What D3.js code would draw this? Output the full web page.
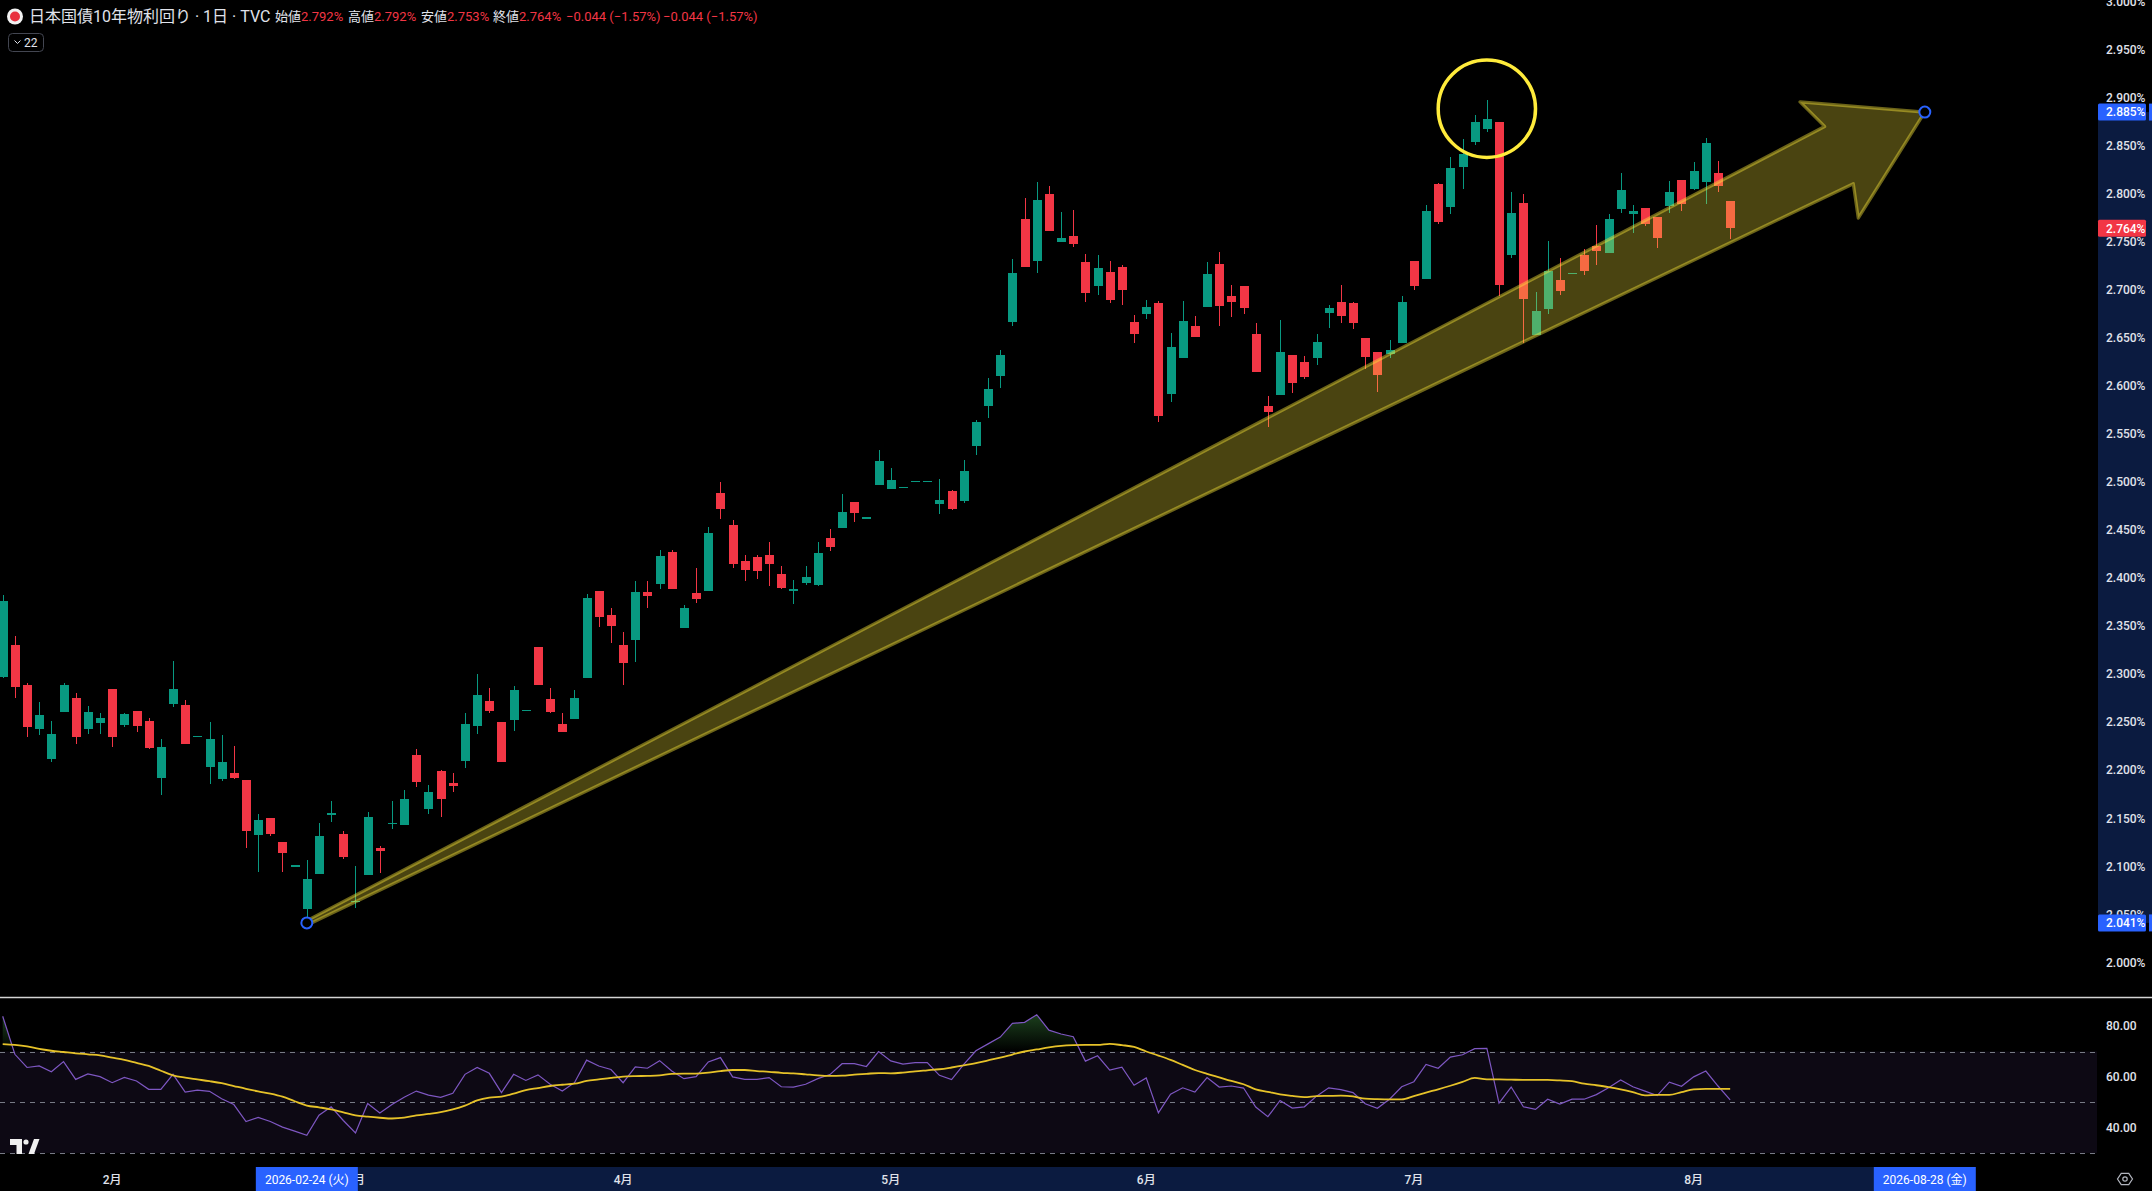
<!DOCTYPE html>
<html lang="ja">
<head>
  <meta charset="UTF-8">
  <title>日本国債10年物利回り - 日足</title>
  <script src="https://d3js.org/d3.v7.min.js"></script>
  <style>
    html, body {
      margin: 0;
      padding: 0;
      background: #000;
    }
    svg {
      display: block;
    }
    text {
      font-family: Roboto, "Noto Sans CJK JP", sans-serif;
    }
  </style>
</head>
<body>
  <svg width="2152" height="1191"></svg>

  <script>
    // trading calendar (weekdays) and the bars that are drawn
    const firstDay = "2026-01-20",
          lastDay = "2026-08-28";

    const opens = [
      2.297, 2.330, 2.289, 2.243, 2.212, 2.261, 2.275, 2.243, 2.249, 2.284,
      2.247, 2.262, 2.251, 2.192, 2.269, 2.268, 2.236, 2.203, 2.191, 2.197,
      2.190, 2.132, 2.150, 2.125, 2.101, 2.056, 2.092, 2.155, 2.134, 2.064,
      2.091, 2.119, 2.145, 2.143, 2.216, 2.160, 2.199, 2.187, 2.210, 2.246,
      2.272, 2.250, 2.252, 2.263, 2.328, 2.274, 2.248, 2.253, 2.296, 2.387,
      2.362, 2.330, 2.335, 2.385, 2.394, 2.427, 2.348, 2.384, 2.386, 2.489,
      2.455, 2.418, 2.422, 2.424, 2.404, 2.386, 2.395, 2.393, 2.442, 2.452,
      2.479, 2.463, 2.497, 2.493, 2.495, 2.501, 2.501, 2.477, 2.491, 2.480,
      2.537, 2.579, 2.610, 2.666, 2.774, 2.730, 2.800, 2.750, 2.756, 2.729,
      2.704, 2.719, 2.724, 2.667, 2.675, 2.686, 2.592, 2.629, 2.662, 2.682,
      2.727, 2.694, 2.704, 2.654, 2.579, 2.591, 2.632, 2.625, 2.629, 2.676,
      2.687, 2.686, 2.650, 2.635, 2.633, 2.645, 2.730, 2.711, 2.810, 2.786,
      2.828, 2.854, 2.867, 2.875, 2.736, 2.790, 2.653, 2.680, 2.710, 2.718,
      2.736, 2.746, 2.738, 2.784, 2.779, 2.785, 2.776, 2.787, 2.814, 2.805,
      2.812, 2.822, 2.792
    ];
    const highs = [
      2.382, 2.340, 2.291, 2.271, 2.251, 2.291, 2.280, 2.267, 2.259, 2.284,
      2.260, 2.262, 2.254, 2.232, 2.314, 2.273, 2.236, 2.250, 2.237, 2.225,
      2.190, 2.154, 2.150, 2.125, 2.101, 2.107, 2.145, 2.168, 2.137, 2.100,
      2.156, 2.121, 2.168, 2.179, 2.222, 2.185, 2.200, 2.197, 2.259, 2.300,
      2.286, 2.250, 2.288, 2.263, 2.328, 2.286, 2.259, 2.283, 2.383, 2.387,
      2.369, 2.344, 2.397, 2.397, 2.429, 2.429, 2.372, 2.410, 2.453, 2.500,
      2.460, 2.424, 2.424, 2.437, 2.413, 2.398, 2.413, 2.438, 2.451, 2.487,
      2.479, 2.463, 2.533, 2.515, 2.495, 2.501, 2.501, 2.503, 2.492, 2.523,
      2.564, 2.608, 2.637, 2.732, 2.796, 2.812, 2.808, 2.781, 2.783, 2.737,
      2.736, 2.730, 2.726, 2.674, 2.689, 2.688, 2.655, 2.688, 2.673, 2.729,
      2.739, 2.705, 2.704, 2.665, 2.589, 2.669, 2.632, 2.631, 2.654, 2.684,
      2.705, 2.687, 2.650, 2.635, 2.648, 2.694, 2.730, 2.788, 2.811, 2.838,
      2.857, 2.882, 2.898, 2.875, 2.802, 2.800, 2.698, 2.751, 2.733, 2.718,
      2.742, 2.767, 2.779, 2.822, 2.788, 2.785, 2.776, 2.813, 2.814, 2.833,
      2.858, 2.834, 2.792
    ];
    const lows = [
      2.296, 2.275, 2.235, 2.237, 2.209, 2.261, 2.227, 2.238, 2.238, 2.224,
      2.245, 2.240, 2.222, 2.174, 2.266, 2.227, 2.236, 2.186, 2.189, 2.191,
      2.119, 2.094, 2.131, 2.094, 2.101, 2.041, 2.092, 2.146, 2.108, 2.057,
      2.091, 2.093, 2.139, 2.143, 2.182, 2.154, 2.151, 2.177, 2.202, 2.238,
      2.260, 2.209, 2.241, 2.263, 2.289, 2.259, 2.240, 2.253, 2.296, 2.349,
      2.332, 2.289, 2.313, 2.369, 2.389, 2.389, 2.348, 2.374, 2.386, 2.461,
      2.410, 2.397, 2.399, 2.392, 2.389, 2.373, 2.393, 2.392, 2.428, 2.452,
      2.458, 2.463, 2.497, 2.493, 2.495, 2.501, 2.501, 2.467, 2.471, 2.478,
      2.528, 2.567, 2.598, 2.662, 2.724, 2.718, 2.761, 2.750, 2.745, 2.687,
      2.695, 2.686, 2.684, 2.645, 2.670, 2.562, 2.583, 2.629, 2.651, 2.682,
      2.662, 2.672, 2.675, 2.614, 2.557, 2.591, 2.593, 2.607, 2.622, 2.660,
      2.665, 2.659, 2.618, 2.594, 2.629, 2.645, 2.700, 2.711, 2.768, 2.779,
      2.805, 2.851, 2.864, 2.694, 2.733, 2.645, 2.653, 2.675, 2.695, 2.718,
      2.715, 2.726, 2.738, 2.780, 2.759, 2.766, 2.743, 2.780, 2.782, 2.804,
      2.789, 2.802, 2.753
    ];
    const closes = [
      2.376, 2.287, 2.245, 2.257, 2.238, 2.289, 2.234, 2.261, 2.254, 2.234,
      2.258, 2.246, 2.223, 2.224, 2.284, 2.227, 2.236, 2.232, 2.208, 2.192,
      2.137, 2.148, 2.134, 2.114, 2.101, 2.087, 2.131, 2.155, 2.110, 2.064,
      2.151, 2.116, 2.145, 2.170, 2.188, 2.177, 2.170, 2.183, 2.248, 2.278,
      2.262, 2.209, 2.283, 2.263, 2.289, 2.261, 2.240, 2.275, 2.379, 2.359,
      2.350, 2.312, 2.385, 2.381, 2.423, 2.389, 2.369, 2.378, 2.447, 2.472,
      2.415, 2.408, 2.407, 2.415, 2.390, 2.389, 2.401, 2.426, 2.432, 2.469,
      2.468, 2.463, 2.522, 2.502, 2.495, 2.501, 2.501, 2.481, 2.472, 2.511,
      2.562, 2.597, 2.632, 2.717, 2.724, 2.793, 2.761, 2.754, 2.748, 2.697,
      2.723, 2.689, 2.700, 2.654, 2.682, 2.569, 2.640, 2.668, 2.651, 2.716,
      2.683, 2.687, 2.681, 2.614, 2.573, 2.635, 2.603, 2.609, 2.646, 2.681,
      2.673, 2.665, 2.630, 2.611, 2.637, 2.687, 2.704, 2.782, 2.771, 2.827,
      2.841, 2.875, 2.878, 2.705, 2.780, 2.690, 2.678, 2.720, 2.699, 2.718,
      2.720, 2.740, 2.774, 2.804, 2.782, 2.769, 2.754, 2.802, 2.789, 2.824,
      2.853, 2.808, 2.764
    ];

    const rsiValues = [
      83.9, 68.9, 63.7, 64.3, 62.0, 66.0, 59.0, 61.2, 60.1, 57.7,
      59.8, 58.4, 55.1, 55.1, 61.0, 54.0, 54.8, 54.3, 51.4, 49.1,
      42.4, 44.0, 42.4, 40.2, 38.6, 37.0, 44.9, 48.2, 42.8, 37.9,
      49.5, 45.8, 49.1, 52.0, 54.4, 52.8, 51.9, 53.5, 61.0, 63.7,
      61.4, 53.8, 61.0, 58.6, 60.8, 57.1, 54.4, 57.7, 66.6, 64.3,
      62.9, 57.7, 63.9, 63.4, 66.4, 62.3, 59.3, 60.1, 65.9, 67.6,
      60.0, 59.0, 59.0, 59.7, 56.1, 56.0, 57.1, 59.3, 60.9, 65.2,
      65.2, 64.1, 70.0, 66.3, 65.0, 65.6, 65.6, 60.6, 58.9, 64.9,
      70.3, 73.0, 75.7, 81.1, 81.5, 84.5, 78.4, 76.9, 75.8, 66.2,
      68.3, 62.7, 63.8, 56.7, 59.6, 45.8, 53.2, 55.7, 54.0, 59.7,
      56.0, 56.4, 55.6, 48.1, 44.3, 50.7, 47.7, 48.2, 52.4, 55.7,
      55.0, 53.8, 49.4, 47.6, 51.2, 56.1, 58.1, 64.9, 63.4, 67.8,
      68.7, 71.1, 71.2, 49.7, 56.0, 48.2, 47.2, 51.2, 49.3, 51.2,
      51.2, 53.0, 55.7, 58.8, 56.1, 54.4, 52.6, 57.9, 56.3, 60.0,
      62.3, 56.4, 50.9
    ];
    const rsiMa = [
      72.9, 72.6, 72.0, 71.0, 70.3, 69.8, 69.3, 68.9, 68.5, 67.6,
      66.7, 65.5, 64.3, 62.4, 60.6, 59.7, 59.0, 58.3, 57.5, 56.4,
      55.3, 54.3, 53.4, 52.2, 50.4, 48.7, 48.0, 47.2, 46.0, 44.8,
      44.3, 43.9, 43.6, 43.9, 44.8, 45.4, 46.1, 47.2, 48.7, 50.7,
      51.8, 52.2, 53.4, 54.8, 55.6, 56.4, 56.9, 57.3, 58.4, 59.0,
      59.6, 60.1, 60.3, 60.4, 60.6, 61.2, 61.3, 61.3, 61.7, 62.3,
      62.7, 62.7, 62.3, 62.0, 61.6, 61.4, 61.0, 60.6, 60.4, 60.5,
      60.9, 61.2, 61.5, 61.4, 61.7, 62.2, 62.6, 63.0, 63.7, 64.5,
      65.4, 66.5, 67.6, 68.8, 70.0, 70.8, 71.6, 72.2, 72.5, 72.6,
      72.6, 73.0, 72.5, 71.8, 70.0, 68.4, 66.7, 64.7, 62.7, 61.2,
      59.8, 58.4, 57.1, 55.1, 54.1, 53.1, 52.5, 52.0, 52.4, 52.5,
      52.6, 52.3, 51.4, 51.2, 51.1, 51.1, 52.4, 53.8, 55.1, 56.5,
      58.0, 59.6, 59.0, 59.0, 58.9, 58.8, 58.8, 58.8, 58.6, 58.3,
      57.3, 56.7, 56.0, 55.1, 54.0, 52.7, 52.9, 52.9, 54.0, 55.1,
      55.3, 55.3, 55.3
    ];

    // axis ticks
    const priceTicks = [2.000, 2.050, 2.100, 2.150, 2.200, 2.250, 2.300, 2.350, 2.400, 2.450,
                        2.500, 2.550, 2.600, 2.650, 2.700, 2.750, 2.800, 2.850, 2.900, 2.950, 3.000];
    const rsiTicks = [80, 60, 40];
    const rsiLevels = [70, 50, 30];
    const monthDates = ["2026-02-02", "2026-03-02", "2026-04-01", "2026-05-01", "2026-06-01", "2026-07-01", "2026-08-03"];
    const monthLabels = ["2月", "3月", "4月", "5月", "6月", "7月", "8月"];

    // drawings: fat arrow, circle, and the selected range markers
    const arrowFrom = {date: "2026-02-24", price: 2.041},
          arrowTo = {date: "2026-08-28", price: 2.885};
    const circleCenter = {date: "2026-07-09", price: 2.8885},
          circleEdgeDate = "2026-07-15";
    const rangeLabels = ["2026-02-24 (火)", "2026-08-28 (金)"];

    const title = "日本国債10年物利回り · 1日 · TVC";
    const legendNames = ["始値", "高値", "安値", "終値"];
    const legendValues = ["2.792%", "2.792%", "2.753%", "2.764%"];
    const legendChange = "−0.044 (−1.57%)";

    const upColor = "#089981",
          downColor = "#F23645",
          navy = "#0b1b40",
          axisText = "#e0e3eb";

    const svg = d3.select("svg"),
          W = +svg.attr("width"),
          H = +svg.attr("height"),
          axisX = 2097,          // left edge of price scale
          paneBottom = 997.5,    // separator between panes
          timeTop = 1167;        // top of time scale

    svg.append("rect").attr("width", W).attr("height", H).attr("fill", "#000");

    // calendar of weekdays
    const parse = d3.utcParse("%Y-%m-%d"), fmt = d3.utcFormat("%Y-%m-%d");
    const days = d3.utcDays(parse(firstDay), d3.utcDay.offset(parse(lastDay), 1))
                   .filter(d => d.getUTCDay() % 6 !== 0)
                   .map(fmt);

    const x = d3.scalePoint().domain(days).range([2.7, 1924.8]);
    const y = d3.scaleLinear().domain([2.0, 3.0]).range([962.3, 1.6]);
    const yR = d3.scaleLinear().domain([30, 70]).range([1153, 1051.5]);

    const bars = closes.map((c, i) => ({
      date: days[i], o: opens[i], h: highs[i], l: lows[i], c: c,
      rsi: rsiValues[i], ma: rsiMa[i]
    }));

    // ---------- RSI pane ----------
    const rsiG = svg.append("g");

    rsiG.append("rect")
      .attr("x", 0).attr("width", axisX)
      .attr("y", yR(70)).attr("height", yR(30) - yR(70))
      .attr("fill", "rgba(126,87,194,0.1)");

    rsiG.selectAll(".lvl")
      .data(rsiLevels)
      .enter()
      .append("line")
        .attr("x1", 0).attr("x2", axisX)
        .attr("y1", d => Math.round(yR(d)) + 0.5)
        .attr("y2", d => Math.round(yR(d)) + 0.5)
        .attr("stroke", "#787b86")
        .attr("stroke-dasharray", "5 5");

    // overbought gradient fill
    const defs = svg.append("defs");
    const grad = defs.append("linearGradient")
      .attr("id", "ob").attr("gradientUnits", "userSpaceOnUse")
      .attr("x1", 0).attr("x2", 0).attr("y1", yR(100)).attr("y2", yR(70));
    grad.append("stop").attr("offset", 0).attr("stop-color", "rgba(76,175,80,0.75)");
    grad.append("stop").attr("offset", 1).attr("stop-color", "rgba(76,175,80,0)");
    defs.append("clipPath").attr("id", "above70")
      .append("rect").attr("x", 0).attr("y", 990).attr("width", axisX).attr("height", yR(70) - 990);

    rsiG.append("path")
      .datum(bars)
      .attr("clip-path", "url(#above70)")
      .attr("fill", "url(#ob)")
      .attr("d", d3.area().x(d => x(d.date)).y0(yR(70)).y1(d => yR(d.rsi)));

    rsiG.append("path")
      .datum(bars)
      .attr("fill", "none")
      .attr("stroke", "#7E57C2")
      .attr("stroke-width", 1.2)
      .attr("d", d3.line().x(d => x(d.date)).y(d => yR(d.rsi)));

    rsiG.append("path")
      .datum(bars)
      .attr("fill", "none")
      .attr("stroke", "#E6C229")
      .attr("stroke-width", 1.8)
      .attr("d", d3.line().curve(d3.curveMonotoneX).x(d => x(d.date)).y(d => yR(d.ma)));

    svg.append("line")
      .attr("x1", 0).attr("x2", W)
      .attr("y1", paneBottom).attr("y2", paneBottom)
      .attr("stroke", "#d4d4d4").attr("stroke-width", 1.4);

    // ---------- candles ----------
    const bodyW = 9;
    const candles = svg.append("g").attr("shape-rendering", "crispEdges");

    candles.selectAll(".wick")
      .data(bars)
      .enter()
      .append("rect")
        .attr("x", d => Math.round(x(d.date)) - 0.5)
        .attr("width", 1.2)
        .attr("y", d => y(d.h))
        .attr("height", d => Math.max(1, y(d.l) - y(d.h)))
        .attr("fill", d => d.c >= d.o ? upColor : downColor);

    candles.selectAll(".body")
      .data(bars)
      .enter()
      .append("rect")
        .attr("x", d => Math.round(x(d.date)) - bodyW / 2)
        .attr("width", bodyW)
        .attr("y", d => y(Math.max(d.o, d.c)))
        .attr("height", d => Math.max(1.5, Math.abs(y(d.o) - y(d.c))))
        .attr("fill", d => d.c >= d.o ? upColor : downColor);

    // ---------- arrow marker ----------
    const T = [x(arrowFrom.date), y(arrowFrom.price)],
          P = [x(arrowTo.date), y(arrowTo.price)];
    const len = Math.hypot(P[0] - T[0], P[1] - T[1]);
    const u = [(P[0] - T[0]) / len, (P[1] - T[1]) / len],
          n = [-u[1], u[0]];
    const at = (a, p) => [T[0] + a * u[0] + p * n[0], T[1] + a * u[1] + p * n[1]];
    const arrowPts = [
      at(0, -2), at(len - 96, -32), at(len - 107, -65), at(len, 0),
      at(len - 107, 65), at(len - 96, 32), at(0, 2)
    ];
    svg.append("path")
      .attr("d", d3.line()(arrowPts) + "Z")
      .attr("fill", "rgba(255,235,59,0.29)")
      .attr("stroke", "rgba(255,235,59,0.42)")
      .attr("stroke-width", 3.2)
      .attr("stroke-linejoin", "round");

    // circle around the top
    const cx = x(circleCenter.date), cy = y(circleCenter.price);
    svg.append("circle")
      .attr("cx", cx).attr("cy", cy)
      .attr("r", x(circleEdgeDate) - cx)
      .attr("fill", "none")
      .attr("stroke", "#FFEB3B")
      .attr("stroke-width", 3.5);

    // anchor handles
    svg.selectAll(".anchor")
      .data([T, P])
      .enter()
      .append("circle")
        .attr("cx", d => d[0]).attr("cy", d => d[1])
        .attr("r", 5.5)
        .attr("fill", "#000")
        .attr("stroke", "#2962FF")
        .attr("stroke-width", 2);

    // ---------- price scale ----------
    const scale = svg.append("g");
    scale.append("rect")
      .attr("x", axisX + 1).attr("width", W - axisX - 1)
      .attr("y", y(arrowTo.price)).attr("height", y(arrowFrom.price) - y(arrowTo.price))
      .attr("fill", navy);

    scale.selectAll(".tick")
      .data(priceTicks)
      .enter()
      .append("text")
        .attr("x", 2106)
        .attr("y", d => y(d))
        .attr("dy", "0.36em")
        .attr("font-size", 12)
        .attr("font-weight", 500)
        .attr("fill", axisText)
        .text(d => d3.format(".3f")(d) + "%");

    scale.selectAll(".rtick")
      .data(rsiTicks)
      .enter()
      .append("text")
        .attr("x", 2106)
        .attr("y", d => yR(d))
        .attr("dy", "0.36em")
        .attr("font-size", 12)
        .attr("font-weight", 500)
        .attr("fill", axisText)
        .text(d => d3.format(".2f")(d));

    const priceLabels = [
      {v: arrowTo.price, color: "#2962FF", tail: true},
      {v: closes[closes.length - 1], color: downColor, tail: false},
      {v: arrowFrom.price, color: "#2962FF", tail: true}
    ];
    priceLabels.forEach(p => {
      scale.append("rect")
        .attr("x", axisX + 1).attr("width", 48)
        .attr("y", y(p.v) - 8.5).attr("height", 17)
        .attr("rx", 1.5)
        .attr("fill", p.color);
      if (p.tail) {
        scale.append("rect")
          .attr("x", 2149).attr("width", 3)
          .attr("y", y(p.v) - 8.5).attr("height", 17)
          .attr("fill", p.color);
      }
      scale.append("text")
        .attr("x", 2106)
        .attr("y", y(p.v))
        .attr("dy", "0.36em")
        .attr("font-size", 12)
        .attr("font-weight", 500)
        .attr("fill", "#fff")
        .text(d3.format(".3f")(p.v) + "%");
    });

    // ---------- time scale ----------
    const timeG = svg.append("g");
    timeG.append("rect")
      .attr("x", x(arrowFrom.date)).attr("width", x(arrowTo.date) - x(arrowFrom.date))
      .attr("y", timeTop).attr("height", H - timeTop)
      .attr("fill", navy);

    timeG.selectAll(".month")
      .data(monthDates)
      .enter()
      .append("text")
        .attr("x", d => x(d))
        .attr("y", 1180)
        .attr("dy", "0.36em")
        .attr("text-anchor", "middle")
        .attr("font-size", 12)
        .attr("font-weight", 500)
        .attr("fill", axisText)
        .text((d, i) => monthLabels[i]);

    [arrowFrom.date, arrowTo.date].forEach((d, i) => {
      timeG.append("rect")
        .attr("x", x(d) - 51).attr("width", 102)
        .attr("y", timeTop).attr("height", H - timeTop)
        .attr("fill", "#2962FF");
      timeG.append("text")
        .attr("x", x(d)).attr("y", 1180)
        .attr("dy", "0.36em")
        .attr("text-anchor", "middle")
        .attr("font-size", 12)
        .attr("fill", "#fff")
        .text(rangeLabels[i]);
    });

    // ---------- legend ----------
    const legend = svg.append("g");
    legend.append("circle").attr("cx", 15).attr("cy", 16.5).attr("r", 8).attr("fill", "#f2f2f2");
    legend.append("circle").attr("cx", 15).attr("cy", 16.5).attr("r", 5).attr("fill", "#e8313f");
    legend.append("text")
      .attr("x", 29).attr("y", 16.5).attr("dy", "0.36em")
      .attr("font-size", 16)
      .attr("fill", axisText)
      .text(title);

    const legendX = [275, 348, 421, 493];
    legendNames.forEach((name, i) => {
      const t = legend.append("text")
        .attr("x", legendX[i]).attr("y", 16.5).attr("dy", "0.36em")
        .attr("font-size", 13);
      t.append("tspan").attr("fill", axisText).text(name);
      t.append("tspan").attr("fill", downColor).text(legendValues[i]);
    });
    [566, 663].forEach(px => {
      legend.append("text")
        .attr("x", px).attr("y", 16.5).attr("dy", "0.36em")
        .attr("font-size", 13)
        .attr("fill", downColor)
        .text(legendChange);
    });

    // collapsed indicator box
    legend.append("rect")
      .attr("x", 8.5).attr("y", 33.5).attr("width", 35).attr("height", 18).attr("rx", 4)
      .attr("fill", "none").attr("stroke", "#434651");
    legend.append("path")
      .attr("d", "M14.5 40.5 l3 3 l3 -3")
      .attr("fill", "none").attr("stroke", axisText).attr("stroke-width", 1);
    legend.append("text")
      .attr("x", 24).attr("y", 42.5).attr("dy", "0.36em")
      .attr("font-size", 12).attr("fill", axisText)
      .text("22");

    // TradingView logo
    const logo = svg.append("g").attr("fill", "#f0f0f0");
    logo.append("path").attr("d", "M10 1139 H22 V1154 H16.5 V1145 H10 Z");
    logo.append("circle").attr("cx", 26).attr("cy", 1142).attr("r", 2.6);
    logo.append("path").attr("d", "M28.5 1154 L34 1139 H39.5 L34 1154 Z");

    // settings icon, bottom right
    const hex = d3.range(6).map(k => [2125 + 7.5 * Math.cos(k * Math.PI / 3), 1179 + 6.5 * Math.sin(k * Math.PI / 3)]);
    svg.append("path")
      .attr("d", d3.line()(hex) + "Z")
      .attr("fill", "none").attr("stroke", "#b2b5be").attr("stroke-width", 1.2);
    svg.append("circle")
      .attr("cx", 2125).attr("cy", 1179).attr("r", 2.2)
      .attr("fill", "none").attr("stroke", "#b2b5be").attr("stroke-width", 1.2);
  </script>
</body>
</html>
